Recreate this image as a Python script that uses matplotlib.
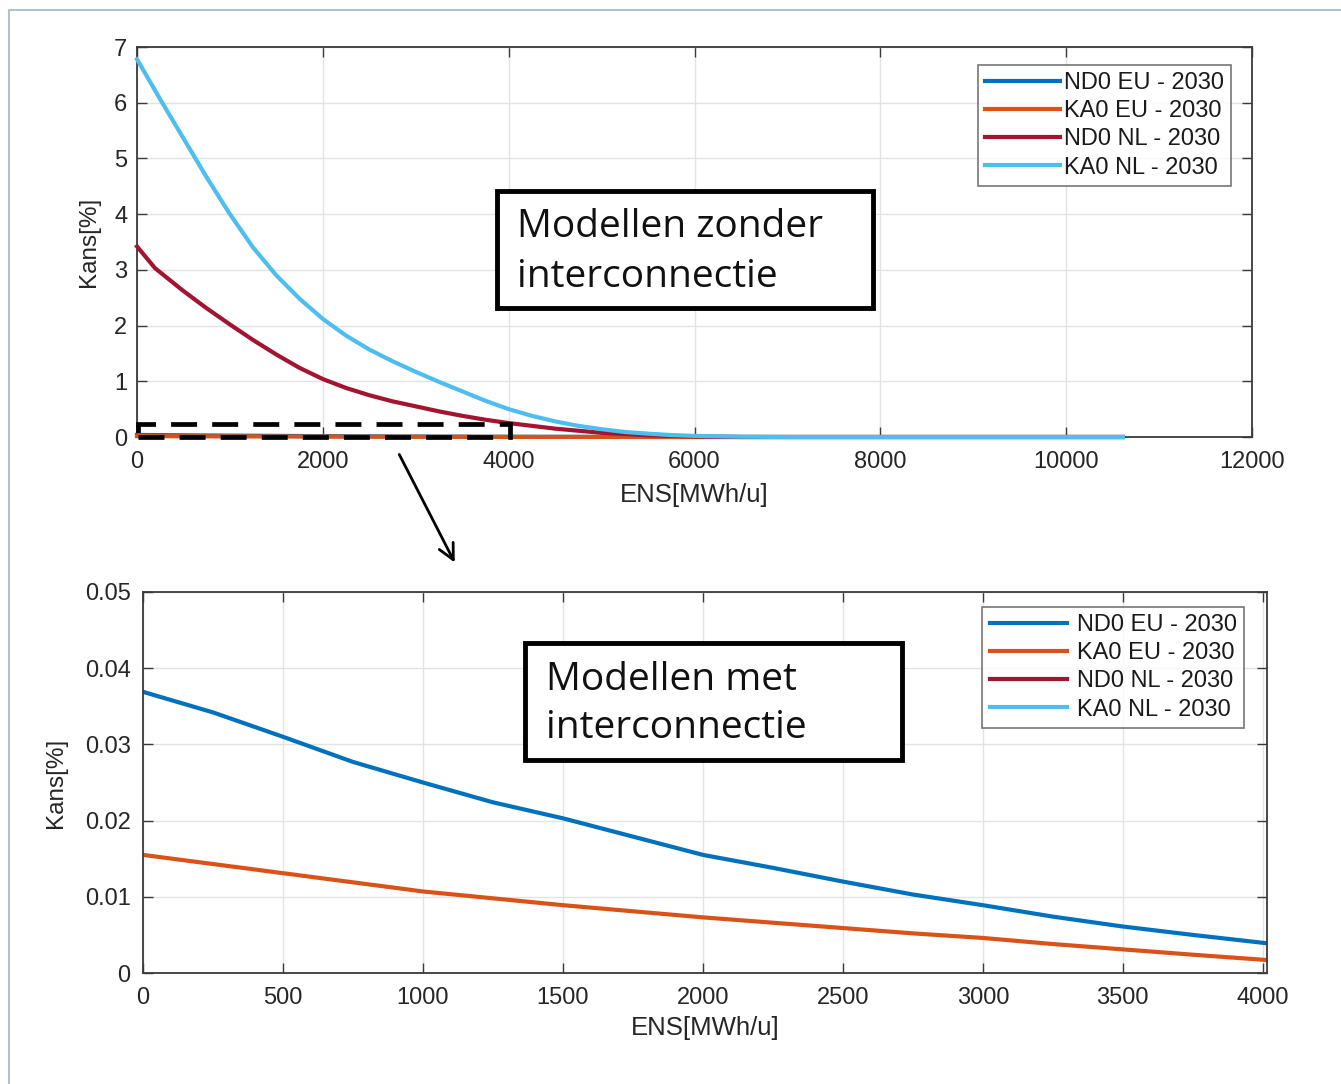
import matplotlib
matplotlib.use('Agg')
import matplotlib.pyplot as plt
from matplotlib.patches import Rectangle, FancyArrowPatch
from matplotlib.lines import Line2D
import matplotlib.ticker as mticker

plt.rcParams['font.family'] = ['Liberation Sans', 'DejaVu Sans']

# ---------------- data ----------------
series_labels = ['ND0 EU - 2030', 'KA0 EU - 2030', 'ND0 NL - 2030', 'KA0 NL - 2030']
series_colors = ['#0072BD', '#D95319', '#A2142F', '#4DBEEE']

# Models with interconnection (EU)
ens_eu = [0, 250, 500, 750, 1000, 1250, 1500, 1750, 2000, 2250, 2500, 2750,
          3000, 3250, 3500, 3750, 4015]
nd0_eu = [0.0369, 0.0342, 0.0310, 0.0277, 0.0250, 0.0224, 0.0203, 0.0179,
          0.0155, 0.0138, 0.0120, 0.0103, 0.0089, 0.0074, 0.0061, 0.0050, 0.0039]
ka0_eu = [0.0155, 0.0143, 0.0131, 0.0119, 0.0107, 0.0098, 0.0089, 0.0081,
          0.0073, 0.0066, 0.0059, 0.0052, 0.0046, 0.0038, 0.0031, 0.0024, 0.0017]
ens_eu_tail = [6000, 10610]
eu_tail = [0.0, 0.0]

# Models without interconnection (NL)
ens_nd0_nl = [0, 194, 500, 750, 1000, 1250, 1500, 1750, 2000, 2250, 2500, 2750,
              3000, 3250, 3500, 3750, 4000, 4500, 5000, 5500, 6000, 6500, 10610]
nd0_nl = [3.42, 3.03, 2.62, 2.31, 2.02, 1.74, 1.48, 1.24, 1.04, 0.88, 0.75, 0.64,
          0.55, 0.46, 0.38, 0.31, 0.25, 0.15, 0.075, 0.03, 0.01, 0.0, 0.0]
ens_ka0_nl = [0, 250, 500, 750, 1000, 1250, 1500, 1750, 2000, 2250, 2500, 2750,
              3000, 3250, 3500, 3750, 4000, 4250, 4500, 4750, 5000, 5250, 5500,
              5750, 6000, 6500, 7000, 10610]
ka0_nl = [6.78, 6.06, 5.36, 4.66, 4.00, 3.40, 2.90, 2.48, 2.12, 1.82, 1.57, 1.36,
          1.17, 0.99, 0.82, 0.65, 0.50, 0.38, 0.28, 0.20, 0.14, 0.09, 0.06,
          0.035, 0.02, 0.005, 0.0, 0.0]

top_xticks = [0, 2000, 4000, 6000, 8000, 10000, 12000]
top_yticks = [0, 1, 2, 3, 4, 5, 6, 7]
bot_xticks = [0, 500, 1000, 1500, 2000, 2500, 3000, 3500, 4000]
bot_yticks = [0, 0.01, 0.02, 0.03, 0.04, 0.05]

# ---------------- figure ----------------
W, H = 1341, 1084
fig = plt.figure(figsize=(W / 100, H / 100), dpi=100)
fig.patch.set_facecolor('white')

ax1 = fig.add_axes([137 / W, 1 - 437 / H, (1252 - 137) / W, (437 - 47) / H])
ax2 = fig.add_axes([143 / W, 1 - 973 / H, (1267 - 143) / W, (973 - 592) / H])

axcol = '#3a3a3a'
txtcol = '#262626'
fmt = mticker.FuncFormatter(lambda v, p: f'{v:g}')


def style(ax, xt, yt, xlim, ylim, ypad):
    ax.set_xlim(*xlim)
    ax.set_ylim(*ylim)
    ax.set_xticks(xt)
    ax.set_yticks(yt)
    ax.xaxis.set_major_formatter(fmt)
    ax.yaxis.set_major_formatter(fmt)
    ax.grid(True, color='#e3e3e3', linewidth=1.0)
    ax.set_axisbelow(True)
    ax.tick_params(direction='in', length=7, width=1.0, color=axcol,
                   top=True, right=True, labelsize=17, labelcolor=txtcol)
    ax.tick_params(axis='x', pad=10)
    ax.tick_params(axis='y', pad=ypad)
    for s in ax.spines.values():
        s.set_color(axcol)
        s.set_linewidth(1.3)


lw = 3.0
# top panel
kw_top = dict(lw=lw, clip_on=False, zorder=3)
ax1.plot(ens_eu + ens_eu_tail, nd0_eu + eu_tail, color=series_colors[0], label=series_labels[0], **kw_top)
ax1.plot(ens_eu + ens_eu_tail, ka0_eu + eu_tail, color=series_colors[1], label=series_labels[1], **kw_top)
ax1.plot(ens_nd0_nl, nd0_nl, color=series_colors[2], label=series_labels[2], **kw_top)
ax1.plot(ens_ka0_nl, ka0_nl, color=series_colors[3], label=series_labels[3], **kw_top)
style(ax1, top_xticks, top_yticks, (0, 12000), (0, 7), 7)

# bottom panel
ax2.plot(ens_eu, nd0_eu, color=series_colors[0], lw=lw, label=series_labels[0])
ax2.plot(ens_eu, ka0_eu, color=series_colors[1], lw=lw, label=series_labels[1])
ax2.plot([], [], color=series_colors[2], lw=lw, label=series_labels[2])
ax2.plot([], [], color=series_colors[3], lw=lw, label=series_labels[3])
style(ax2, bot_xticks, bot_yticks, (0, 4015), (0, 0.05), 9)

for ax, lx, ly in [(ax1, -0.033, -0.118), (ax2, -0.068, -0.113)]:
    ax.set_xlabel('ENS[MWh/u]', fontsize=18.5, color=txtcol)
    ax.set_ylabel('Kans[%]', fontsize=17.5, color=txtcol)
    ax.xaxis.set_label_coords(0.5, ly)
    ax.yaxis.set_label_coords(lx, 0.5)

leg_kw = dict(loc='upper right', fontsize=17, frameon=True, fancybox=False,
              borderaxespad=0, labelspacing=0.26, borderpad=0.3)
l1 = ax1.legend(bbox_to_anchor=((1231 - 137) / 1115, (437 - 65) / 390),
                handlelength=3.2, handletextpad=0.15, **leg_kw)
l2 = ax2.legend(bbox_to_anchor=((1244 - 143) / 1124, (973 - 607) / 381),
                handlelength=3.3, handletextpad=0.4, **leg_kw)
for lg in (l1, l2):
    lg.get_frame().set_edgecolor('#555555')
    lg.get_frame().set_linewidth(1.2)
    lg.set_zorder(10)
    for t in lg.get_texts():
        t.set_color('#1a1a1a')

# dashed zoom rectangle on top panel
ax1.add_patch(Rectangle((15, 0.0), 4000, 0.23, fill=False, edgecolor='black',
                        linewidth=3.4, linestyle=(0, (5.5, 3.2)), clip_on=False, zorder=5))

# arrow
fig.add_artist(FancyArrowPatch(
    (398 / W, 1 - 452 / H), (456 / W, 1 - 565 / H), transform=fig.transFigure,
    arrowstyle='->', mutation_scale=28, linewidth=2.0, color='black'))

# annotation boxes
tfont = ['Open Sans', 'DejaVu Sans']
for (bx0, by0, bx1, by1, tx, b1, b2, line1) in [
        (497, 191, 873, 308, 517, 237, 287, 'Modellen zonder'),
        (525, 643, 902, 760, 546, 690, 738, 'Modellen met')]:
    fig.add_artist(Rectangle((bx0 / W, 1 - by1 / H), (bx1 - bx0) / W, (by1 - by0) / H,
                             transform=fig.transFigure, facecolor='white',
                             edgecolor='black', linewidth=3.5, zorder=6))
    fig.text(tx / W, 1 - b1 / H, line1, fontsize=28, family=tfont, color='#111111',
             va='baseline', ha='left', zorder=7)
    fig.text(tx / W, 1 - b2 / H, 'interconnectie', fontsize=28, family=tfont,
             color='#111111', va='baseline', ha='left', zorder=7)

# outer frame
fig.add_artist(Line2D([8.5 / W, 8.5 / W, 1.0], [0.0, 1 - 9.5 / H, 1 - 9.5 / H],
                      transform=fig.transFigure, color='#b3c0cd', linewidth=1.5))

fig.savefig('out.png', dpi=100)
